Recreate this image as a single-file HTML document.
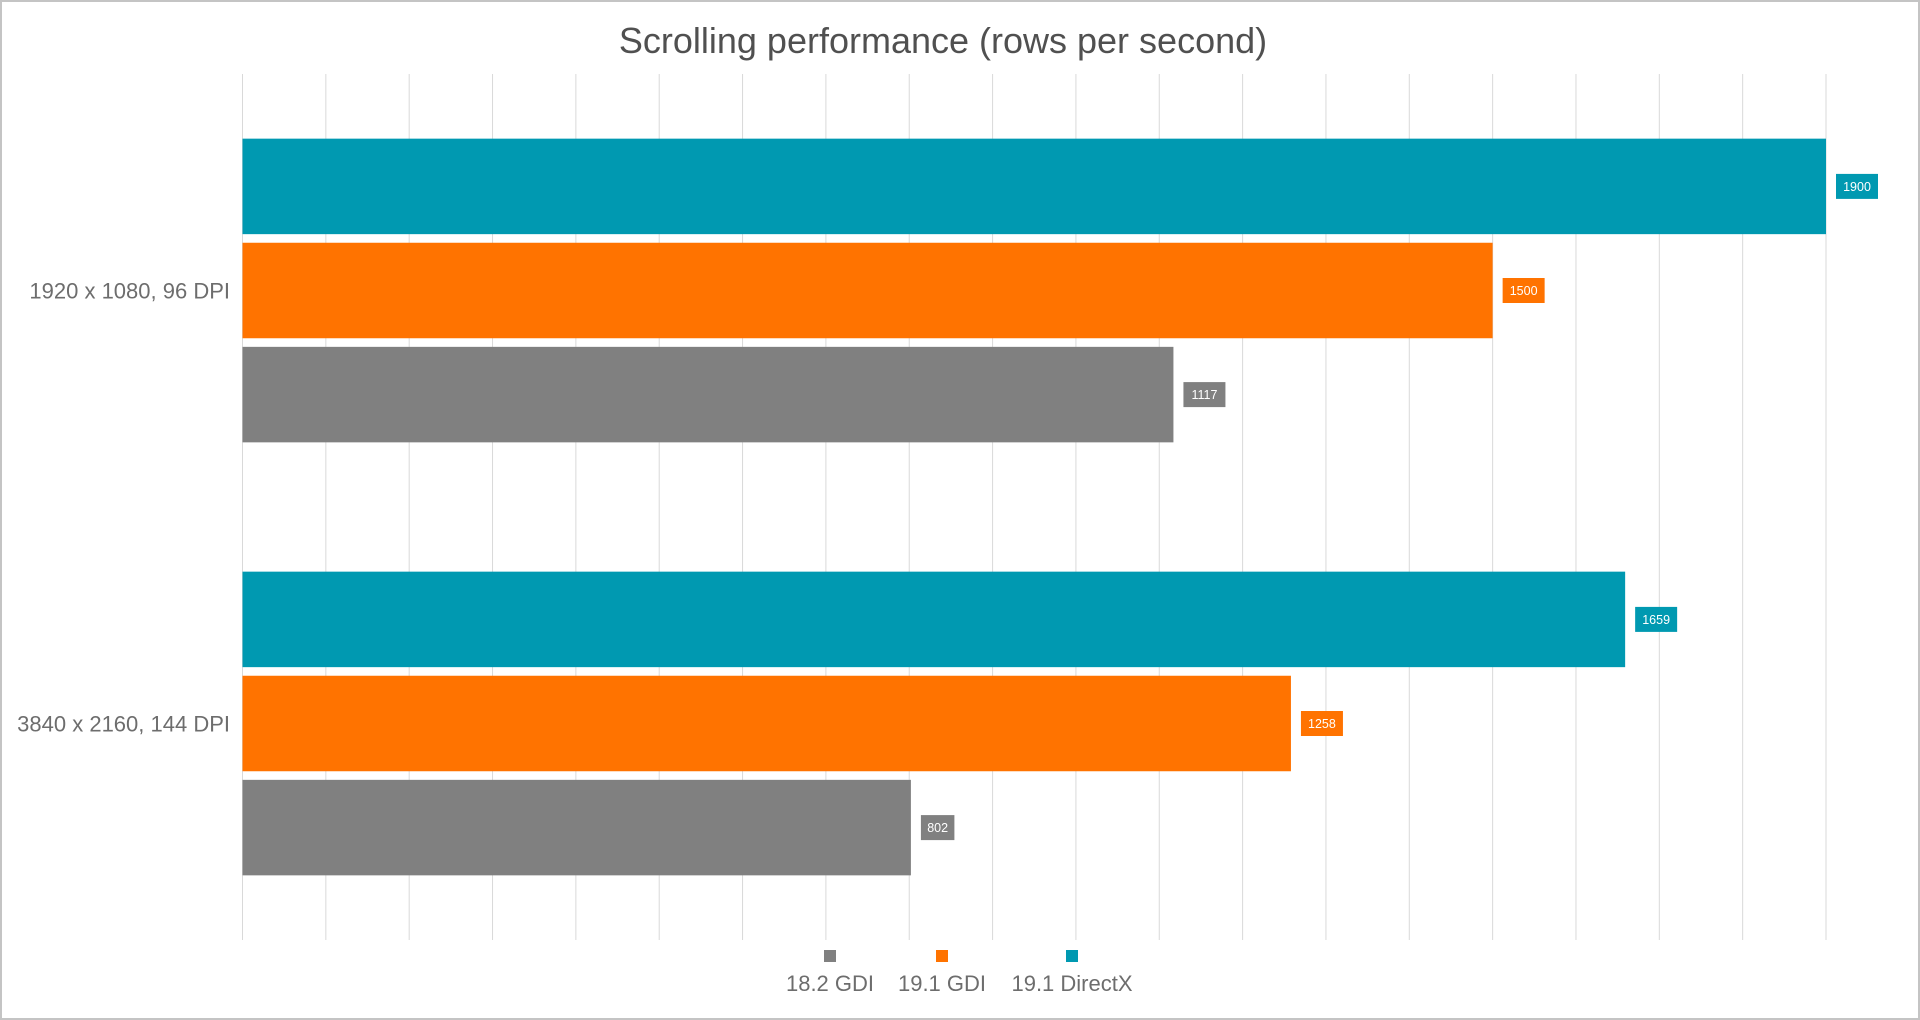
<!DOCTYPE html>
<html><head><meta charset="utf-8"><style>
html,body{margin:0;padding:0;background:#fff;}
svg{display:block;font-family:"Liberation Sans",sans-serif;}
</style></head><body>
<svg id="chart" width="1920" height="1020" viewBox="0 0 1920 1020" xmlns="http://www.w3.org/2000/svg">
<rect x="1" y="1" width="1918" height="1018" fill="#fff" stroke="#c4c4c4" stroke-width="2"/>
<text x="943" y="53" text-anchor="middle" font-size="36" fill="#505050">Scrolling performance (rows per second)</text>
<g id="grid"></g>
<g id="bars"></g>
<g id="cats"></g>
<g id="legend"></g>
</svg>
<script>
const categories = ["1920 x 1080, 96 DPI", "3840 x 2160, 144 DPI"];
const seriesNames = ["19.1 DirectX", "19.1 GDI", "18.2 GDI"];
const directx = [1900, 1659];
const gdi191 = [1500, 1258];
const gdi182 = [1117, 802];
const gridTicks = [0,100,200,300,400,500,600,700,800,900,1000,1100,1200,1300,1400,1500,1600,1700,1800,1900];
const legendOrder = ["18.2 GDI", "19.1 GDI", "19.1 DirectX"];

const colors = {"19.1 DirectX":"#0099b1","19.1 GDI":"#ff7300","18.2 GDI":"#808080"};
const series = {"19.1 DirectX":directx,"19.1 GDI":gdi191,"18.2 GDI":gdi182};
const NS = "http://www.w3.org/2000/svg";
const x0 = 242.5, xMax = 1826, vMax = 1900;
const xs = v => x0 + (v / vMax) * (xMax - x0);
const plotTop = 74, plotBot = 940;
const groupH = (plotBot - plotTop) / categories.length;
const barH = 95.5, barGap = 8.6;
function mk(tag, attrs, parent){const e=document.createElementNS(NS,tag);for(const k in attrs)e.setAttribute(k,attrs[k]);parent.appendChild(e);return e;}

const grid = document.getElementById('grid');
gridTicks.forEach(t=>{
  const l = mk('line',{x1:xs(t),x2:xs(t),y1:plotTop,y2:plotBot,stroke:'#d9d9d9','stroke-width':1},grid);
  
  
});

const bars = document.getElementById('bars');
const cats = document.getElementById('cats');
const blockH = 3*barH + 2*barGap;
categories.forEach((c,ci)=>{
  const gTop = plotTop + ci*groupH + (groupH - blockH)/2;
  seriesNames.forEach((s,si)=>{
    const v = series[s][ci];
    const y = gTop + si*(barH+barGap);
    const r = mk('rect',{x:x0,y:y,width:xs(v)-x0,height:barH,fill:colors[s]},bars);
    
    
    const lx = xs(v)+10, ly = y+barH/2;
    const txt = String(v);
    const w = txt.length*8.5+8;
    const b = mk('rect',{x:lx,y:ly-12.5,width:w,height:25,fill:colors[s]},bars);
    
    
    const t = mk('text',{x:lx+w/2,y:ly+4.5,'text-anchor':'middle','font-size':12.5,fill:'#fff'},bars);
    t.textContent = txt;
    
    
  });
  const t = mk('text',{x:230,y:plotTop+ci*groupH+groupH/2+8,'text-anchor':'end','font-size':22,fill:'#6d6d6d'},cats);
  t.textContent = c;
  
  
});

const legend = document.getElementById('legend');
const legX = [830, 942, 1072];
legendOrder.forEach((s,i)=>{
  const r = mk('rect',{x:legX[i]-6,y:950,width:12,height:12,fill:colors[s]},legend);
  
  
  const t = mk('text',{x:legX[i],y:991,'text-anchor':'middle','font-size':22,fill:'#6d6d6d'},legend);
  t.textContent = s;
  
  
});
</script>
</body></html>
